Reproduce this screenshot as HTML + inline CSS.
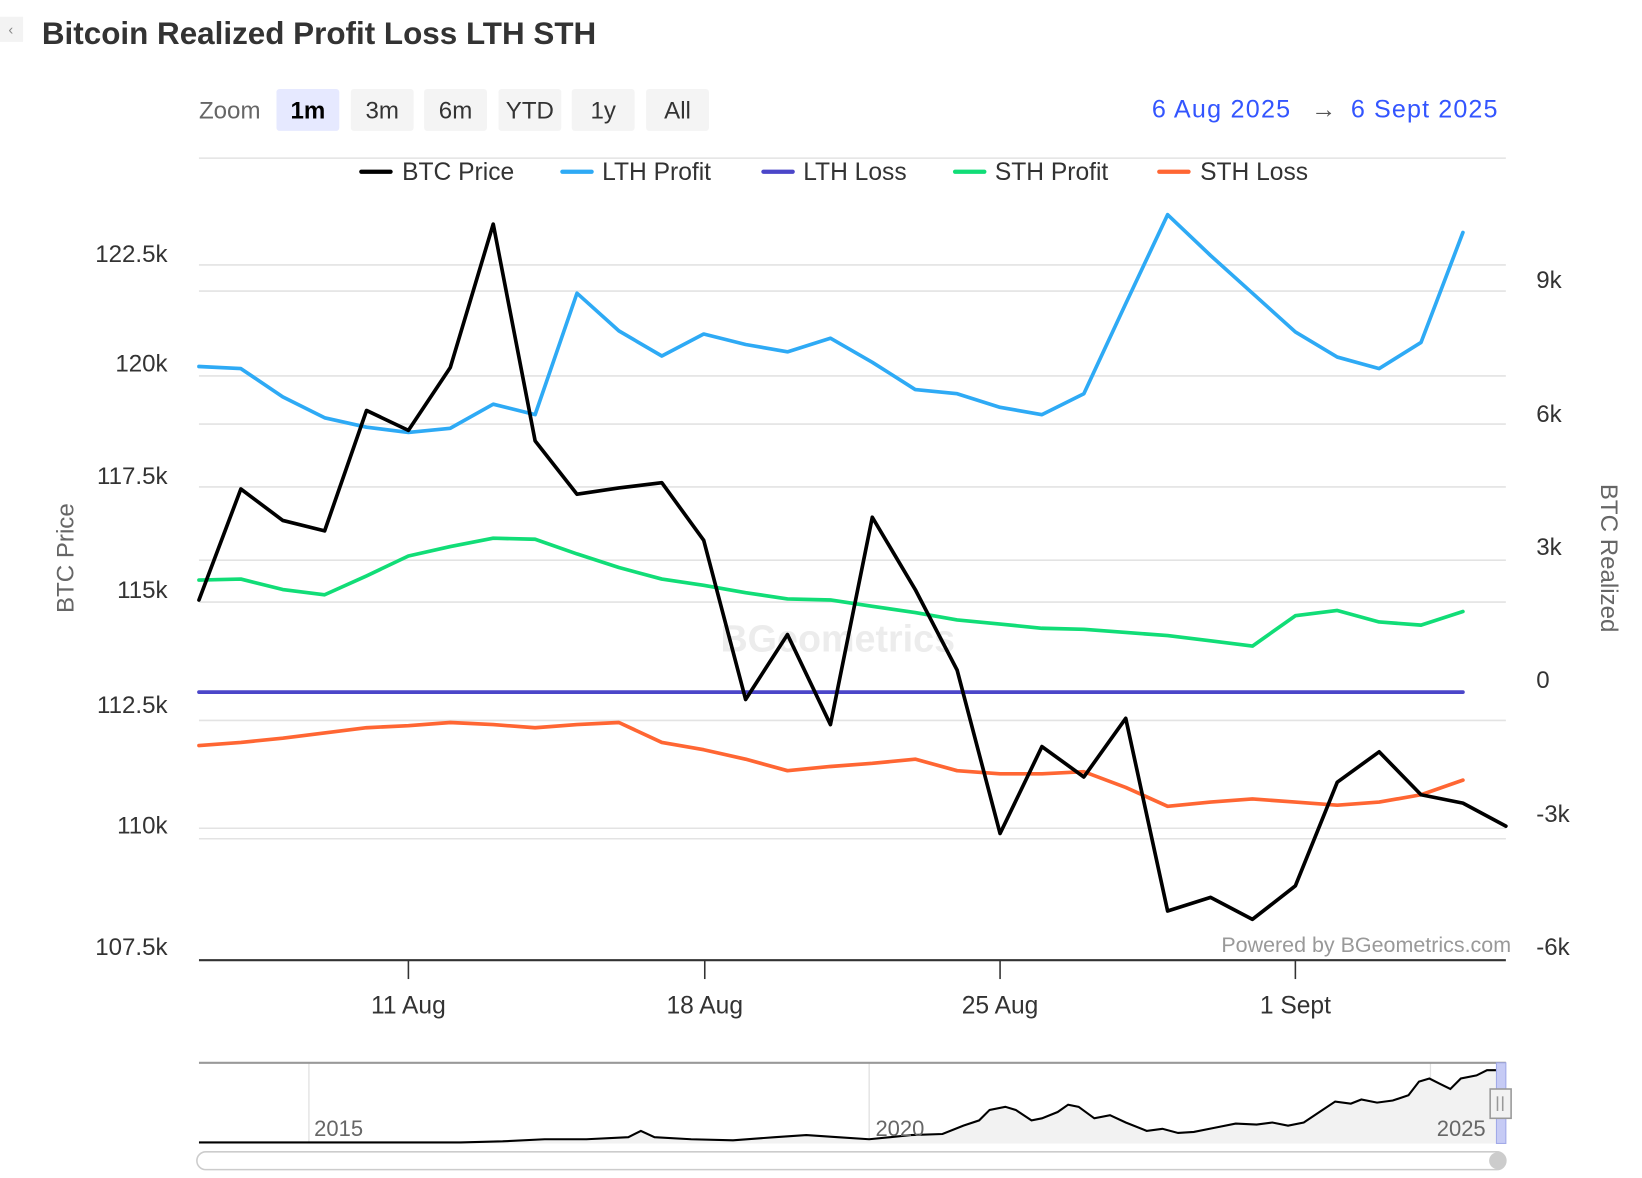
<!DOCTYPE html>
<html><head><meta charset="utf-8"><style>
html,body{margin:0;padding:0;background:#fff;}
svg{display:block;font-family:"Liberation Sans",sans-serif;}
</style></head><body>
<svg width="1642" height="1178" viewBox="0 0 1568 1125" preserveAspectRatio="none">
<rect x="0" y="0" width="1568" height="1125" fill="#fff"/>
<rect x="0" y="16" width="22" height="24" fill="#f3f3f3"/>
<text x="8" y="33" font-size="14" fill="#888">‹</text>
<text x="40" y="42" font-size="30" font-weight="bold" fill="#333">Bitcoin Realized Profit Loss LTH STH</text>
<!-- zoom buttons -->
<text x="190" y="113" font-size="23" fill="#666">Zoom</text>
<rect x="264" y="85" width="60" height="40" rx="3" fill="#e6e9ff"/>
<rect x="335" y="85" width="60" height="40" rx="3" fill="#f4f4f4"/>
<rect x="405" y="85" width="60" height="40" rx="3" fill="#f4f4f4"/>
<rect x="476" y="85" width="60" height="40" rx="3" fill="#f4f4f4"/>
<rect x="546" y="85" width="60" height="40" rx="3" fill="#f4f4f4"/>
<rect x="617" y="85" width="60" height="40" rx="3" fill="#f4f4f4"/>
<g font-size="23" fill="#333" text-anchor="middle">
<text x="294" y="113" font-weight="bold" fill="#000">1m</text>
<text x="365" y="113">3m</text>
<text x="435" y="113">6m</text>
<text x="506" y="113">YTD</text>
<text x="576" y="113">1y</text>
<text x="647" y="113">All</text>
</g>
<text x="1100" y="112" font-size="24" fill="#3355ff" textLength="132">6 Aug 2025</text>
<text x="1252" y="112" font-size="24" fill="#555">→</text>
<text x="1290" y="112" font-size="24" fill="#3355ff" textLength="140">6 Sept 2025</text>
<!-- gridlines -->
<g stroke="#e3e3e3" stroke-width="1.5">
<line x1="190" x2="1438" y1="151" y2="151"/>
<line x1="190" x2="1438" y1="253" y2="253"/>
<line x1="190" x2="1438" y1="278" y2="278"/>
<line x1="190" x2="1438" y1="359" y2="359"/>
<line x1="190" x2="1438" y1="405" y2="405"/>
<line x1="190" x2="1438" y1="465" y2="465"/>
<line x1="190" x2="1438" y1="535" y2="535"/>
<line x1="190" x2="1438" y1="575" y2="575"/>
<line x1="190" x2="1438" y1="688" y2="688"/>
<line x1="190" x2="1438" y1="791" y2="791"/>
<line x1="190" x2="1438" y1="801" y2="801"/>
</g>
<!-- watermark -->
<text x="800" y="622" font-size="36" font-weight="bold" fill="#ececec" text-anchor="middle">BGeometrics</text>
<!-- legend -->
<g font-size="23.5" fill="#333">
<line x1="345" x2="373" y1="164" y2="164" stroke="#000" stroke-width="4" stroke-linecap="round"/><text x="384" y="172">BTC Price</text>
<line x1="537" x2="565" y1="164" y2="164" stroke="#2eaaf5" stroke-width="4" stroke-linecap="round"/><text x="575" y="172">LTH Profit</text>
<line x1="729" x2="757" y1="164" y2="164" stroke="#4b46c9" stroke-width="4" stroke-linecap="round"/><text x="767" y="172">LTH Loss</text>
<line x1="912" x2="940" y1="164" y2="164" stroke="#11dd77" stroke-width="4" stroke-linecap="round"/><text x="950" y="172">STH Profit</text>
<line x1="1107" x2="1135" y1="164" y2="164" stroke="#ff6633" stroke-width="4" stroke-linecap="round"/><text x="1146" y="172">STH Loss</text>
</g>
<!-- left axis -->
<g font-size="23" fill="#333" text-anchor="end">
<text x="160" y="250">122.5k</text>
<text x="160" y="355">120k</text>
<text x="160" y="462">117.5k</text>
<text x="160" y="571">115k</text>
<text x="160" y="681">112.5k</text>
<text x="160" y="796">110k</text>
<text x="160" y="912">107.5k</text>
</g>
<text transform="translate(70,533) rotate(-90)" font-size="23" fill="#666" text-anchor="middle">BTC Price</text>
<g font-size="23" fill="#333">
<text x="1467" y="275">9k</text>
<text x="1467" y="403">6k</text>
<text x="1467" y="530">3k</text>
<text x="1467" y="657">0</text>
<text x="1467" y="785">-3k</text>
<text x="1467" y="912">-6k</text>
</g>
<text transform="translate(1529,533) rotate(90)" font-size="23" fill="#666" text-anchor="middle">BTC Realized</text>
<!-- series -->
<g fill="none" stroke-width="3.5" stroke-linejoin="round" stroke-linecap="round">
<polyline stroke="#2eaaf5" points="190,350 230,352 270,379 310,399 350,408 390,413 430,409 471,386 511,396 551,280 591,316 632,340 672,319 712,329 752,336 793,323 833,346 874,372 914,376 955,389 995,396 1035,376 1075,290 1115,205 1156,244 1196,280 1237,317 1277,341 1317,352 1357,327 1397,222"/>
<polyline stroke="#11dd77" points="190,554 230,553 270,563 310,568 350,550 390,531 430,522 471,514 511,515 551,529 591,542 632,553 672,559 712,566 752,572 793,573 833,579 874,585 914,592 955,596 995,600 1035,601 1075,604 1115,607 1156,612 1196,617 1237,588 1277,583 1317,594 1357,597 1397,584"/>
<line x1="190" x2="1397" y1="661" y2="661" stroke="#4b46c9"/>
<polyline stroke="#ff6633" points="190,712 230,709 270,705 310,700 350,695 390,693 430,690 471,692 511,695 551,692 591,690 632,709 672,716 712,725 752,736 793,732 833,729 874,725 914,736 955,739 995,739 1035,737 1075,752 1115,770 1156,766 1196,763 1237,766 1277,769 1317,766 1357,759 1397,745"/>
<polyline stroke="#000" points="190,573 230,467 270,497 310,507 350,392 390,411 430,351 471,214 511,421 551,472 591,466 632,461 672,516 712,668 752,606 793,692 833,494 874,563 914,640 955,796 995,713 1035,742 1075,686 1115,870 1156,857 1196,878 1237,846 1277,747 1317,718 1357,759 1397,767 1438,789"/>
</g>
<text x="1443" y="909" font-size="20.5" fill="#999" text-anchor="end">Powered by BGeometrics.com</text>
<!-- x axis -->
<line x1="190" x2="1438" y1="917" y2="917" stroke="#333" stroke-width="2"/>
<g stroke="#333" stroke-width="1.5">
<line x1="390" x2="390" y1="917" y2="935"/>
<line x1="673" x2="673" y1="917" y2="935"/>
<line x1="955" x2="955" y1="917" y2="935"/>
<line x1="1237" x2="1237" y1="917" y2="935"/>
</g>
<g font-size="23.5" fill="#333" text-anchor="middle">
<text x="390" y="968">11 Aug</text>
<text x="673" y="968">18 Aug</text>
<text x="955" y="968">25 Aug</text>
<text x="1237" y="968">1 Sept</text>
</g>
<!-- navigator -->
<g stroke="#e0e0e0" stroke-width="1.2">
<line x1="295" x2="295" y1="1015" y2="1092"/>
<line x1="830" x2="830" y1="1015" y2="1092"/>
<line x1="1366" x2="1366" y1="1015" y2="1092"/>
</g>
<polygon fill="#f2f2f2" points="190,1091 440,1091 480,1090 520,1088 560,1088 600,1086 612,1080 625,1086 660,1088 700,1089 740,1086 770,1084 800,1086 830,1088 870,1084 900,1083 920,1075 935,1070 945,1060 960,1057 970,1060 985,1070 995,1068 1010,1062 1020,1055 1030,1057 1045,1068 1060,1065 1075,1072 1095,1080 1110,1078 1125,1082 1140,1081 1160,1077 1180,1073 1200,1074 1215,1072 1230,1075 1245,1072 1260,1062 1275,1052 1290,1054 1300,1050 1315,1053 1330,1051 1345,1046 1355,1033 1365,1030 1375,1035 1385,1040 1395,1030 1410,1027 1420,1022 1430,1022 1438,1024 1438,1092 190,1092"/>
<polyline fill="none" stroke="#000" stroke-width="2" points="190,1091 440,1091 480,1090 520,1088 560,1088 600,1086 612,1080 625,1086 660,1088 700,1089 740,1086 770,1084 800,1086 830,1088 870,1084 900,1083 920,1075 935,1070 945,1060 960,1057 970,1060 985,1070 995,1068 1010,1062 1020,1055 1030,1057 1045,1068 1060,1065 1075,1072 1095,1080 1110,1078 1125,1082 1140,1081 1160,1077 1180,1073 1200,1074 1215,1072 1230,1075 1245,1072 1260,1062 1275,1052 1290,1054 1300,1050 1315,1053 1330,1051 1345,1046 1355,1033 1365,1030 1375,1035 1385,1040 1395,1030 1410,1027 1420,1022 1430,1022"/>
<line x1="190" x2="1438" y1="1015" y2="1015" stroke="#999" stroke-width="2"/>
<rect x="1429" y="1015" width="9" height="77" fill="#c6cbf5" stroke="#a0a8e8"/>
<g font-size="21" fill="#666">
<text x="300" y="1085">2015</text>
<text x="836" y="1085">2020</text>
<text x="1372" y="1085">2025</text>
</g>
<rect x="1423" y="1040" width="20" height="28" fill="#f2f2f2" stroke="#999" stroke-width="1.5"/>
<line x1="1430" x2="1430" y1="1047" y2="1061" stroke="#999" stroke-width="1.5"/>
<line x1="1435" x2="1435" y1="1047" y2="1061" stroke="#999" stroke-width="1.5"/>
<rect x="188" y="1100" width="1250" height="17" rx="8.5" fill="#fff" stroke="#ccc" stroke-width="1.5"/>
<circle cx="1430" cy="1108.5" r="8" fill="#ccc"/>
</svg>
</body></html>
